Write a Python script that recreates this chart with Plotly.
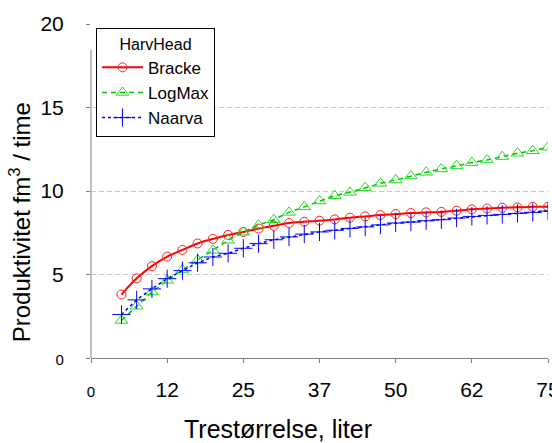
import plotly.graph_objects as go

tree_size = [5, 7.5, 10, 12.5, 15, 17.5, 20, 22.5, 25, 27.5, 30, 32.5, 35, 37.5, 40,
             42.5, 45, 47.5, 50, 52.5, 55, 57.5, 60, 62.5, 65, 67.5, 70, 72.5, 75]

bracke = [3.8, 4.77, 5.5, 6.07, 6.47, 6.86, 7.13, 7.37, 7.55, 7.75, 7.92, 8.08, 8.16, 8.22, 8.3,
          8.4, 8.48, 8.56, 8.62, 8.68, 8.72, 8.75, 8.82, 8.9, 8.95, 9.0, 9.02, 9.05, 9.06]

logmax = [2.25, 3.1, 3.95, 4.65, 5.27, 5.87, 6.45, 7.05, 7.53, 7.96, 8.28, 8.72, 9.05, 9.4, 9.72,
          9.92, 10.2, 10.46, 10.66, 10.9, 11.12, 11.32, 11.52, 11.7, 11.86, 12.06, 12.26, 12.41, 12.62]

naarva = [2.6, 3.48, 4.14, 4.75, 5.23, 5.7, 6.05, 6.27, 6.57, 6.85, 7.08, 7.25, 7.42, 7.55, 7.65,
          7.76, 7.85, 7.97, 8.08, 8.14, 8.22, 8.28, 8.38, 8.48, 8.54, 8.6, 8.66, 8.72, 8.8]

x_tickvals = [0, 12.5, 25, 37.5, 50, 62.5, 75]
x_ticktext = ['<span style="font-size:15px">0</span>', '12', '25', '37', '50', '62', '75']
x_gridvals = [25, 50, 75]
y_tickvals = [0, 5, 10, 15, 20]
y_ticktext = ['<span style="font-size:15px">0</span>', '5', '10', '15', '20']

FONT = "Liberation Sans, Arial, sans-serif"
AXIS_GRAY = "#808080"
GRID = "#C8C8C8"

fig = go.Figure()
fig.add_trace(go.Scatter(
    x=tree_size, y=bracke, name="Bracke", mode="lines+markers",
    line=dict(color="#FF0000", width=2, shape="spline", smoothing=1),
    marker=dict(symbol="circle-open", size=9, color="#FF2020", line=dict(width=1))))
fig.add_trace(go.Scatter(
    x=tree_size, y=logmax, name="LogMax", mode="lines+markers",
    line=dict(color="#00C000", width=1.5, dash="5px,4px"),
    marker=dict(symbol="triangle-up-open", size=11, color="#20E020", line=dict(width=1))))
fig.add_trace(go.Scatter(
    x=tree_size, y=naarva, name="Naarva", mode="lines+markers",
    line=dict(color="#0000FF", width=1.5, dash="dot"),
    marker=dict(symbol="cross-thin-open", size=13, color="#0000FF", line=dict(width=1, color="#0000FF"))))

fig.update_layout(
    width=552, height=443,
    margin=dict(l=91, r=4, t=24, b=85, autoexpand=False),
    paper_bgcolor="white", plot_bgcolor="white",
    font=dict(family=FONT, color="black", size=21),
    showlegend=True,
    legend=dict(
        x=0.011, y=0.988, xanchor="left", yanchor="top",
        bgcolor="white", bordercolor="black", borderwidth=1,
        font=dict(size=17, family=FONT),
        title=dict(text="HarvHead", side="top center", font=dict(size=16, family=FONT)),
        tracegroupgap=0, itemwidth=41,
    ),
    xaxis=dict(
        range=[0, 75], tickmode="array", tickvals=x_tickvals, ticktext=x_ticktext,
        showgrid=False, zeroline=False, showline=True, linecolor=AXIS_GRAY, linewidth=1,
        ticks="outside", ticklen=4, tickcolor=AXIS_GRAY, ticklabelstandoff=9,
        ticklabeloverflow="allow", automargin=False,
        tickfont=dict(size=21, family=FONT),
    ),
    xaxis2=dict(
        range=[0, 75], overlaying="x", tickmode="array", tickvals=x_gridvals,
        showgrid=True, gridcolor=GRID, griddash="5px,3px", gridwidth=1,
        showticklabels=False, ticks="", zeroline=False, showline=False, automargin=False,
    ),
    yaxis=dict(
        range=[0, 20], tickmode="array", tickvals=y_tickvals, ticktext=y_ticktext,
        showgrid=True, gridcolor=GRID, griddash="5px,3px", gridwidth=1,
        zeroline=False, showline=False,
        ticks="outside", ticklen=4, tickcolor=AXIS_GRAY, ticklabelstandoff=18,
        ticklabeloverflow="allow", automargin=False,
        tickfont=dict(size=21, family=FONT),
    ),
    shapes=[dict(type="line", xref="paper", yref="paper", x0=0, x1=0, y0=0, y1=0.922,
                 line=dict(color=AXIS_GRAY, width=1))],
    annotations=[
        dict(text="Trestørrelse, liter", xref="paper", yref="paper", x=0.409, y=-0.212,
             xanchor="center", yanchor="middle", showarrow=False, font=dict(size=25, family=FONT)),
        dict(text="Produktivitet fm<sup>3</sup> / time", xref="paper", yref="paper",
             x=-0.155, y=0.407, xanchor="center", yanchor="middle", textangle=-90,
             showarrow=False, font=dict(size=24, family=FONT)),
    ],
)

fig.write_html("out.html", config={"displayModeBar": False},
               post_script="document.body.style.margin='0px';")
